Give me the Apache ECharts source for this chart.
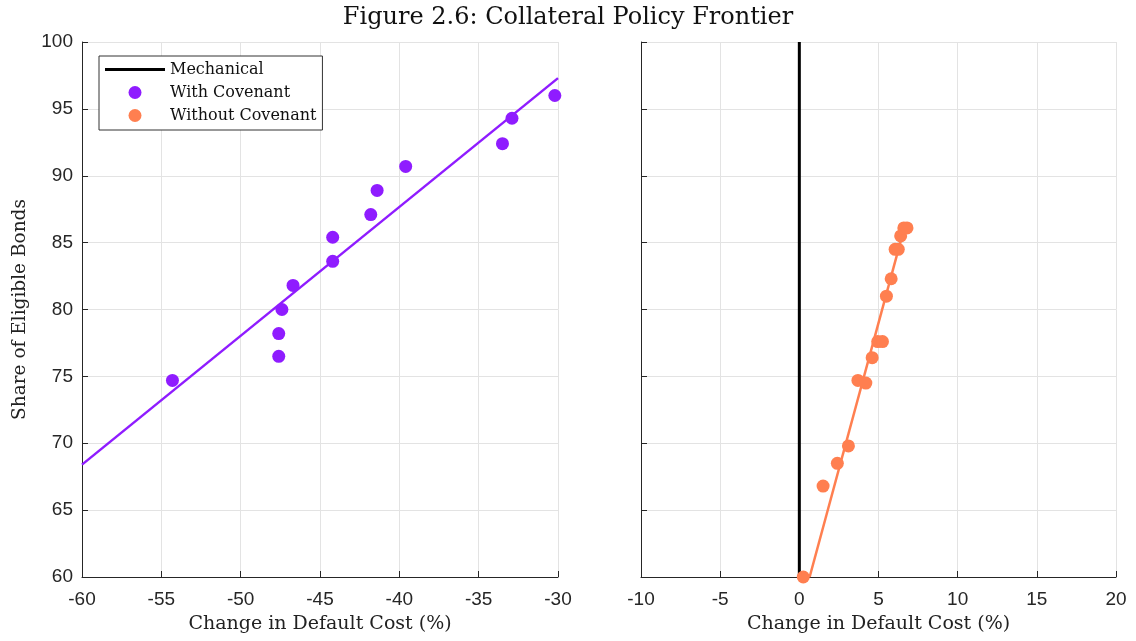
<!DOCTYPE html>
<html>
<head>
<meta charset="utf-8">
<script src="https://cdn.jsdelivr.net/npm/echarts@6/dist/echarts.min.js"></script>
<style>
  html, body { margin: 0; padding: 0; background: #fff; }
  #chart { width: 1136px; height: 641px; }
</style>
</head>
<body>
<div id="chart"></div>
<script>
// Left panel: policies with the covenant
const withCovX = [-54.3, -47.6, -47.6, -47.4, -46.7, -44.2, -44.2, -41.8, -41.4, -39.6, -33.5, -32.9, -30.2];
const withCovY = [74.7, 76.5, 78.2, 80.0, 81.8, 83.6, 85.4, 87.1, 88.9, 90.7, 92.4, 94.3, 96.0];
const withCovFitX = [-60, -30];
const withCovFitY = [68.4, 97.3];

// Right panel: policies without the covenant
const withoutCovX = [0.25, 1.5, 2.4, 3.1, 3.7, 4.2, 4.6, 4.95, 5.25, 5.5, 5.8, 6.05, 6.25, 6.4, 6.6, 6.8];
const withoutCovY = [60.0, 66.8, 68.5, 69.8, 74.7, 74.5, 76.4, 77.6, 77.6, 81.0, 82.3, 84.5, 84.5, 85.5, 86.1, 86.1];
const withoutCovFitX = [0.65, 6.65];
const withoutCovFitY = [60.0, 86.2];

// Mechanical benchmark: zero change in default cost
const mechanicalX = [0, 0];
const mechanicalY = [60, 100];

const leftXTicks = { min: -60, max: -30, interval: 5 };
const rightXTicks = { min: -10, max: 20, interval: 5 };
const yTicks = { min: 60, max: 100, interval: 5 };

const seriesNames = ['Mechanical', 'With Covenant', 'Without Covenant'];
const titleText = 'Figure 2.6: Collateral Policy Frontier';
const xName = 'Change in Default Cost (%)';
const yName = 'Share of Eligible Bonds';

const zip = (xs, ys) => xs.map((x, i) => [x, ys[i]]);

const SERIF = '"DejaVu Serif", "Liberation Serif", serif';
const SANS = '"Liberation Sans", Arial, sans-serif';
const AXIS_COLOR = '#262626';
const GRID_COLOR = '#e3e3e3';
const PURPLE = '#8f1cff';
const CORAL = '#ff7f50';

function xAxis(gridIndex, ticks) {
  return {
    type: 'value', gridIndex,
    min: ticks.min, max: ticks.max, interval: ticks.interval,
    name: xName, nameLocation: 'middle', nameGap: 38,
    nameTextStyle: { fontFamily: SERIF, fontSize: 19, color: '#222' },
    axisLine: { show: true, onZero: false, lineStyle: { color: AXIS_COLOR, width: 1 } },
    axisTick: { show: true, inside: true, length: 6, lineStyle: { color: AXIS_COLOR } },
    axisLabel: { fontFamily: SANS, fontSize: 19, color: AXIS_COLOR, margin: 13 },
    splitLine: { show: true, lineStyle: { color: GRID_COLOR, width: 1 } }
  };
}

function yAxis(gridIndex, showLabels) {
  return {
    type: 'value', gridIndex,
    min: yTicks.min, max: yTicks.max, interval: yTicks.interval,
    name: showLabels ? yName : '', nameLocation: 'middle', nameGap: 52,
    nameTextStyle: { fontFamily: SERIF, fontSize: 18.5, color: '#222' },
    axisLine: { show: true, onZero: false, lineStyle: { color: AXIS_COLOR, width: 1 } },
    axisTick: { show: true, inside: true, length: 6, lineStyle: { color: AXIS_COLOR } },
    axisLabel: { show: showLabels, fontFamily: SANS, fontSize: 19, color: AXIS_COLOR, margin: 9 },
    splitLine: { show: true, lineStyle: { color: GRID_COLOR, width: 1 } }
  };
}

const chart = echarts.init(document.getElementById('chart'), null, { renderer: 'canvas' });

chart.setOption({
  backgroundColor: '#ffffff',
  animation: false,
  title: {
    text: titleText, left: 'center', top: 1,
    textStyle: { fontFamily: SERIF, fontSize: 24, fontWeight: 'normal', color: '#111' }
  },
  legend: {
    data: [
      { name: seriesNames[0], icon: 'path://M0,0 H60 V3 H0 Z', itemStyle: { color: '#000' } },
      { name: seriesNames[1], icon: 'circle' },
      { name: seriesNames[2], icon: 'circle' }
    ],
    orient: 'vertical', left: 99, top: 56,
    backgroundColor: '#fff',
    borderColor: '#333', borderWidth: 1,
    padding: [4, 6, 5, 6], itemGap: 4,
    itemWidth: 60, itemHeight: 13,
    textStyle: { fontFamily: SERIF, fontSize: 16, lineHeight: 19, color: '#111' }
  },
  grid: [
    { left: 82, top: 42, width: 476, height: 535, outerBoundsMode: 'none', containLabel: false },
    { left: 641, top: 42, width: 475, height: 535, outerBoundsMode: 'none', containLabel: false }
  ],
  xAxis: [xAxis(0, leftXTicks), xAxis(1, rightXTicks)],
  yAxis: [yAxis(0, true), yAxis(1, false)],
  series: [
    {
      name: 'With Covenant fit', type: 'line', xAxisIndex: 0, yAxisIndex: 0,
      data: zip(withCovFitX, withCovFitY), symbol: 'none',
      lineStyle: { color: PURPLE, width: 2.5 }, z: 2, silent: true
    },
    {
      name: 'With Covenant', type: 'scatter', xAxisIndex: 0, yAxisIndex: 0,
      data: zip(withCovX, withCovY), symbol: 'circle', symbolSize: 13,
      itemStyle: { color: PURPLE, opacity: 1 }, z: 3
    },
    {
      name: 'Mechanical', type: 'line', xAxisIndex: 1, yAxisIndex: 1,
      data: zip(mechanicalX, mechanicalY), symbol: 'none',
      lineStyle: { color: '#000', width: 3 }, itemStyle: { color: '#000' }, z: 2
    },
    {
      name: 'Without Covenant fit', type: 'line', xAxisIndex: 1, yAxisIndex: 1,
      data: zip(withoutCovFitX, withoutCovFitY), symbol: 'none',
      lineStyle: { color: CORAL, width: 2.5 }, z: 3, silent: true
    },
    {
      name: 'Without Covenant', type: 'scatter', xAxisIndex: 1, yAxisIndex: 1,
      data: zip(withoutCovX, withoutCovY), symbol: 'circle', symbolSize: 13,
      itemStyle: { color: CORAL, opacity: 1 }, z: 4
    }
  ]
});
</script>
</body>
</html>
